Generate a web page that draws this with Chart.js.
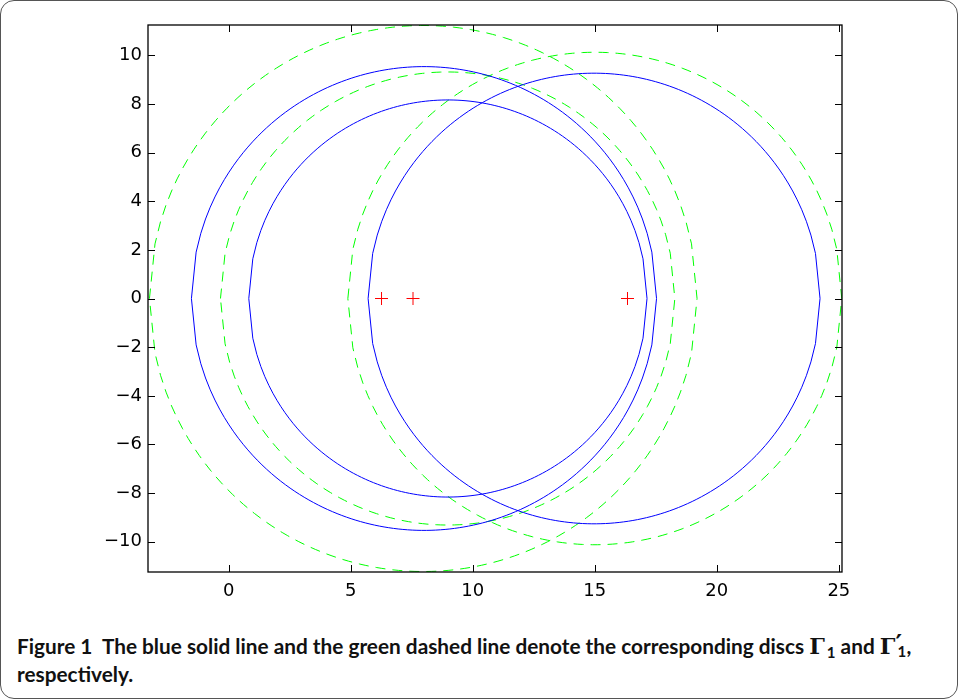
<!DOCTYPE html>
<html>
<head>
<meta charset="utf-8">
<script src="https://cdn.jsdelivr.net/npm/chart.js@4.4.1/dist/chart.umd.min.js"></script>
<style>
  html, body { margin: 0; padding: 0; background: #fff; }
  body { width: 958px; height: 700px; position: relative; overflow: hidden; }
  #frame {
    position: absolute; left: 0; top: 0; width: 958px; height: 699px;
    box-sizing: border-box; border: 1.5px solid #555; border-radius: 14px;
  }
  #chart-box { position: absolute; left: 0; top: 0; width: 958px; height: 620px; }
  #caption {
    position: absolute; left: 17px; top: 633px; width: 935px;
    font-family: Lato, "Open Sans", sans-serif; font-weight: 700; font-size: 20.8px;
    line-height: 25px; color: #111; white-space: nowrap;
  }
  .gam { font-family: "DejaVu Serif", "Liberation Serif", serif; font-weight: 700; font-size: 22px; }
  .sub1 { font-size: 15px; position: relative; top: 4px; margin-left: 2px; }
  .stack { display: inline-block; position: relative; width: 11px; height: 10px; }
  .stack .pr { position: absolute; left: 0px; top: -13px; font-size: 25px; line-height: 25px;
               font-family: "DejaVu Serif", serif; font-weight: 700; }
  .stack .sb { position: absolute; left: 2px; top: -5px; font-size: 15px; }
</style>
</head>
<body>
<div id="frame"></div>
<div id="chart-box"><canvas id="circlesChart"></canvas></div>
<div id="caption">Figure 1&nbsp; The blue solid line and the green dashed line denote the corresponding discs <span class="gam">Γ</span><span class="sub1">1</span> and <span class="gam">Γ</span><span class="stack"><span class="pr">′</span><span class="sb">1</span></span>,<br>respectively.</div>
<script>
// --- DATA ---
const xTicks = [0, 5, 10, 15, 20, 25];
const yTicks = [-10, -8, -6, -4, -2, 0, 2, 4, 6, 8, 10];

// blue solid discs: centre on the x axis + radius
const blueCentres = [8.0, 8.98, 14.97];
const blueRadii = [9.53, 8.16, 9.26];

// green dashed discs
const greenCentres = [7.97, 8.97, 15.0];
const greenRadii = [11.22, 9.31, 10.12];

// red "+" markers on y = 0
const markerX = [6.26, 7.55, 16.34];
const markerY = [0, 0, 0];

const xRange = [-3.31, 25.13];
const yRange = [-11.24, 11.24];

// each circle was plotted from 100 evenly spaced x values per half,
// which is why the left/right tips show a kink
const N_HALF = 100;

function circlePoints(cx, r) {
    const upper = [], lower = [];
    for (let k = 0; k < N_HALF; k++) {
        const x = cx - r + k * 2 * r / (N_HALF - 1);
        const h = Math.sqrt(Math.max(0, r * r - (x - cx) * (x - cx)));
        upper.push({ x: x, y: h });
        lower.push({ x: x, y: -h });
    }
    return upper.concat(lower.reverse());
}

const datasets = [];
blueCentres.forEach((cx, i) => {
    datasets.push({
        data: circlePoints(cx, blueRadii[i]),
        showLine: true, borderColor: '#0000ff', borderWidth: 1,
        pointRadius: 0, tension: 0, fill: false
    });
});
greenCentres.forEach((cx, i) => {
    datasets.push({
        data: circlePoints(cx, greenRadii[i]),
        showLine: true, borderColor: '#00ff00', borderWidth: 1,
        borderDash: [10, 7], pointRadius: 0, tension: 0, fill: false
    });
});
datasets.push({
    data: markerX.map((x, i) => ({ x: x, y: markerY[i] })),
    showLine: false, pointStyle: 'cross', pointRadius: 6.5,
    borderColor: '#ff0000', borderWidth: 1, backgroundColor: '#ff0000'
});

// box round the axes + inward tick marks on all four sides
const axesBox = {
    id: 'axesBox',
    afterDraw(chart) {
        const ctx = chart.ctx;
        const a = chart.chartArea;
        const xs = chart.scales.x, ys = chart.scales.y;
        const tl = 7;
        ctx.save();
        ctx.strokeStyle = '#000';
        ctx.lineWidth = 1.3;
        ctx.strokeRect(a.left, a.top, a.right - a.left, a.bottom - a.top);
        ctx.lineWidth = 1;
        ctx.beginPath();
        xTicks.forEach(v => {
            const px = Math.round(xs.getPixelForValue(v)) + 0.5;
            ctx.moveTo(px, a.bottom); ctx.lineTo(px, a.bottom - tl);
            ctx.moveTo(px, a.top); ctx.lineTo(px, a.top + tl);
        });
        yTicks.forEach(v => {
            const py = Math.round(ys.getPixelForValue(v)) + 0.5;
            ctx.moveTo(a.left, py); ctx.lineTo(a.left + tl, py);
            ctx.moveTo(a.right, py); ctx.lineTo(a.right - tl, py);
        });
        ctx.stroke();
        ctx.restore();
    }
};

const tickFont = { family: '"DejaVu Sans", "Liberation Sans", sans-serif', size: 18 };
const fmt = v => (v < 0 ? '\u2212' + Math.abs(v) : String(v));

new Chart(document.getElementById('circlesChart'), {
    type: 'scatter',
    data: { datasets: datasets },
    options: {
        responsive: true,
        maintainAspectRatio: false,
        animation: false,
        layout: { padding: { top: 25, right: 116, left: 0, bottom: 0 } },
        plugins: { legend: { display: false }, tooltip: { enabled: false } },
        scales: {
            x: {
                type: 'linear', min: xRange[0], max: xRange[1],
                afterBuildTicks: s => { s.ticks = xTicks.map(v => ({ value: v })); },
                afterFit: s => { s.height = 48; },
                grid: { display: false, drawTicks: false },
                border: { display: false },
                ticks: { color: '#000', font: tickFont, padding: 9, maxRotation: 0, callback: fmt }
            },
            y: {
                type: 'linear', min: yRange[0], max: yRange[1],
                afterBuildTicks: s => { s.ticks = yTicks.map(v => ({ value: v })); },
                afterFit: s => { s.width = 148; },
                grid: { display: false, drawTicks: false },
                border: { display: false },
                ticks: { color: '#000', font: tickFont, padding: 6, callback: fmt }
            }
        }
    },
    plugins: [axesBox]
});
</script>
</body>
</html>
